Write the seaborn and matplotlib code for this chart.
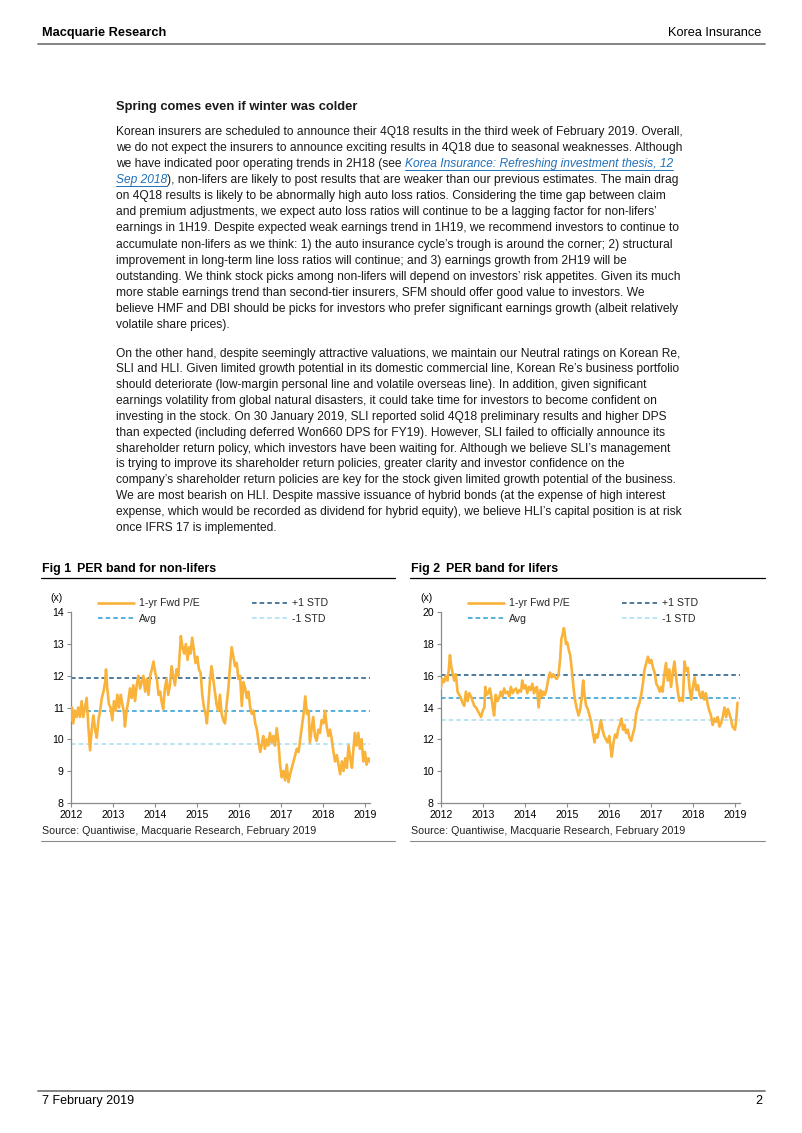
import pandas as pd
import matplotlib
matplotlib.use('Agg')
import matplotlib.pyplot as plt
import seaborn as sns
from matplotlib.lines import Line2D

# page size in pixels (saved at 100 dpi)
W, H = 802, 1133

# ---- chart data ----
year_ticks = [2012, 2013, 2014, 2015, 2016, 2017, 2018, 2019]

nonlife_years = [
    2012.00, 2012.03, 2012.06, 2012.10, 2012.14, 2012.18, 2012.22, 2012.26, 2012.30, 2012.34,
    2012.38, 2012.42, 2012.46, 2012.50, 2012.54, 2012.58, 2012.62, 2012.66, 2012.70, 2012.74,
    2012.78, 2012.82, 2012.84, 2012.87, 2012.91, 2012.95, 2012.99, 2013.03, 2013.07, 2013.11,
    2013.15, 2013.19, 2013.23, 2013.27, 2013.29, 2013.33, 2013.37, 2013.41, 2013.45, 2013.49,
    2013.53, 2013.57, 2013.61, 2013.65, 2013.69, 2013.73, 2013.77, 2013.81, 2013.85, 2013.89,
    2013.93, 2013.97, 2014.01, 2014.05, 2014.09, 2014.13, 2014.16, 2014.20, 2014.24, 2014.28,
    2014.32, 2014.36, 2014.40, 2014.44, 2014.48, 2014.52, 2014.56, 2014.60, 2014.62, 2014.66,
    2014.70, 2014.74, 2014.78, 2014.82, 2014.85, 2014.89, 2014.93, 2014.97, 2015.01, 2015.05,
    2015.09, 2015.13, 2015.17, 2015.21, 2015.24, 2015.28, 2015.31, 2015.35, 2015.39, 2015.43,
    2015.47, 2015.51, 2015.55, 2015.59, 2015.63, 2015.67, 2015.71, 2015.75, 2015.79, 2015.83,
    2015.87, 2015.91, 2015.95, 2015.99, 2016.03, 2016.07, 2016.11, 2016.15, 2016.19, 2016.23,
    2016.27, 2016.31, 2016.35, 2016.39, 2016.43, 2016.47, 2016.51, 2016.55, 2016.58, 2016.62,
    2016.66, 2016.70, 2016.74, 2016.78, 2016.82, 2016.86, 2016.90, 2016.94, 2016.98, 2017.02,
    2017.06, 2017.10, 2017.14, 2017.18, 2017.22, 2017.26, 2017.30, 2017.34, 2017.38, 2017.42,
    2017.46, 2017.50, 2017.54, 2017.58, 2017.62, 2017.66, 2017.69, 2017.73, 2017.77, 2017.81,
    2017.85, 2017.89, 2017.93, 2017.97, 2018.01, 2018.05, 2018.09, 2018.13, 2018.17, 2018.21,
    2018.25, 2018.29, 2018.33, 2018.37, 2018.41, 2018.45, 2018.49, 2018.53, 2018.57, 2018.61,
    2018.65, 2018.69, 2018.72, 2018.76, 2018.80, 2018.84, 2018.88, 2018.92, 2018.96, 2019.00,
    2019.04, 2019.08, 2019.11,
]
nonlife_pe = [
    10.6, 11.0, 10.5, 10.9, 10.7, 11.0, 10.7, 11.2, 10.7, 11.0,
    11.3, 10.4, 9.65, 10.3, 10.75, 10.3, 10.05, 10.6, 10.9, 11.3,
    11.5, 11.8, 12.2, 11.6, 11.1, 11.0, 10.6, 11.2, 10.9, 11.4,
    11.0, 11.4, 11.1, 10.8, 10.4, 10.9, 11.2, 11.6, 11.3, 11.7,
    11.2, 11.7, 12.0, 11.6, 11.8, 12.0, 11.5, 11.9, 11.4, 12.0,
    12.2, 12.45, 12.1, 11.9, 11.4, 11.5, 11.2, 10.95, 11.6, 11.9,
    11.4, 11.7, 12.3, 12.0, 11.7, 12.2, 12.0, 12.8, 13.25, 12.9,
    12.7, 13.0, 12.5, 12.9, 12.7, 13.2, 12.8, 12.4, 12.6, 12.2,
    12.1, 11.4, 11.0, 10.8, 10.5, 11.2, 11.8, 12.3, 11.9, 11.5,
    11.1, 10.9, 11.4, 10.8, 10.6, 10.5, 11.1, 11.6, 12.3, 12.9,
    12.6, 12.3, 12.4, 11.9, 12.0, 11.05, 11.8, 11.6, 11.3, 11.5,
    11.0, 10.8, 10.9, 10.5, 10.3, 9.9, 9.6, 9.85, 10.1, 9.7,
    10.0, 9.8, 10.2, 9.9, 10.1, 9.8, 10.35, 9.95, 9.2, 8.8,
    9.0, 8.7, 9.2, 8.65, 8.9, 9.1, 9.3, 9.5, 9.7, 9.6,
    10.0, 10.4, 10.8, 11.35, 10.8, 10.9, 9.9, 10.3, 10.7, 10.1,
    9.95, 10.3, 10.2, 10.6, 10.5, 10.9, 10.4, 10.1, 10.3, 10.0,
    9.6, 9.3, 9.5, 9.2, 8.9, 9.3, 9.0, 9.4, 9.1, 9.8,
    9.4, 9.1, 9.6, 10.2, 9.8, 10.2, 9.7, 10.0, 9.3, 9.6,
    9.2, 9.4, 9.3,
]

life_years = [
    2012.00, 2012.04, 2012.08, 2012.12, 2012.16, 2012.19, 2012.22, 2012.25, 2012.28, 2012.32,
    2012.36, 2012.40, 2012.44, 2012.48, 2012.52, 2012.56, 2012.60, 2012.64, 2012.68, 2012.72,
    2012.76, 2012.80, 2012.84, 2012.88, 2012.92, 2012.96, 2013.00, 2013.04, 2013.06, 2013.09,
    2013.13, 2013.17, 2013.21, 2013.24, 2013.27, 2013.31, 2013.35, 2013.39, 2013.43, 2013.47,
    2013.51, 2013.55, 2013.59, 2013.63, 2013.67, 2013.71, 2013.75, 2013.79, 2013.83, 2013.87,
    2013.91, 2013.94, 2013.98, 2014.02, 2014.06, 2014.10, 2014.14, 2014.18, 2014.22, 2014.25,
    2014.29, 2014.33, 2014.37, 2014.41, 2014.44, 2014.48, 2014.52, 2014.56, 2014.60, 2014.64,
    2014.68, 2014.72, 2014.76, 2014.80, 2014.84, 2014.87, 2014.90, 2014.93, 2014.95, 2014.98,
    2015.01, 2015.05, 2015.08, 2015.11, 2015.14, 2015.17, 2015.20, 2015.24, 2015.28, 2015.32,
    2015.35, 2015.39, 2015.42, 2015.46, 2015.50, 2015.54, 2015.58, 2015.62, 2015.66, 2015.69,
    2015.73, 2015.77, 2015.81, 2015.85, 2015.89, 2015.93, 2015.97, 2016.01, 2016.04, 2016.07,
    2016.11, 2016.15, 2016.19, 2016.22, 2016.26, 2016.30, 2016.34, 2016.37, 2016.41, 2016.45,
    2016.49, 2016.53, 2016.57, 2016.61, 2016.65, 2016.69, 2016.73, 2016.77, 2016.81, 2016.85,
    2016.89, 2016.93, 2016.97, 2017.01, 2017.05, 2017.09, 2017.13, 2017.17, 2017.21, 2017.25,
    2017.28, 2017.32, 2017.36, 2017.40, 2017.44, 2017.48, 2017.52, 2017.56, 2017.60, 2017.64,
    2017.68, 2017.72, 2017.76, 2017.80, 2017.84, 2017.88, 2017.92, 2017.96, 2018.00, 2018.04,
    2018.08, 2018.12, 2018.16, 2018.19, 2018.23, 2018.27, 2018.31, 2018.35, 2018.39, 2018.43,
    2018.47, 2018.51, 2018.55, 2018.59, 2018.63, 2018.67, 2018.71, 2018.75, 2018.79, 2018.83,
    2018.87, 2018.91, 2018.94, 2018.97, 2019.00, 2019.03, 2019.06,
]
life_pe = [
    15.2, 15.8, 15.6, 16.0, 15.7, 16.3, 17.3, 16.6, 16.2, 15.7,
    16.1, 15.0, 14.8, 14.6, 14.3, 14.1, 15.0, 14.4, 14.9, 14.7,
    14.4, 14.1, 14.0, 13.8, 13.6, 13.4, 13.8, 14.0, 15.3, 14.8,
    14.9, 15.2, 14.6, 14.0, 13.5, 14.8, 14.4, 14.6, 15.0, 14.7,
    15.2, 14.9, 15.0, 14.7, 15.3, 14.9, 15.1, 15.2, 14.9, 15.1,
    15.0, 15.7, 15.2, 15.4, 14.9, 15.3, 15.1, 15.5, 14.9, 15.2,
    15.3, 14.0, 15.1, 14.7, 15.0, 14.8, 15.2, 15.8, 16.2, 15.9,
    16.1, 15.9, 15.8, 16.0, 17.0, 18.3, 18.6, 19.0, 18.7, 18.0,
    18.1, 17.6, 17.3, 16.6, 15.8, 15.0, 14.4, 13.9, 13.5, 13.9,
    14.5, 15.7, 14.8, 14.1, 13.9, 13.5, 13.1, 12.4, 11.8, 12.3,
    12.1, 12.6, 13.2, 12.6, 12.2, 12.0, 11.8, 12.2, 11.5, 10.9,
    11.8, 12.3, 12.1, 12.6, 12.9, 13.3, 12.6, 12.9, 12.4, 12.6,
    12.1, 11.9, 12.3, 12.7, 13.6, 14.0, 14.3, 14.8, 15.5, 16.4,
    16.8, 17.2, 16.8, 17.0, 16.5, 16.2, 15.5, 15.3, 15.0, 15.3,
    15.0, 16.1, 16.8, 15.7, 16.4, 15.3, 16.2, 16.9, 15.9, 15.0,
    14.4, 14.6, 14.4, 16.9, 16.3, 16.5, 15.2, 14.5, 15.3, 15.9,
    15.1, 15.4, 14.8, 14.6, 15.0, 14.5, 14.9, 14.2, 13.8, 13.5,
    12.9, 13.3, 13.1, 13.4, 12.8, 13.0, 13.4, 14.0, 13.4, 13.9,
    13.6, 13.2, 12.8, 12.7, 12.6, 13.2, 14.3,
]

# +1 STD, Avg, -1 STD
nonlife_bands = [11.92, 10.88, 9.84]
life_bands = [16.05, 14.62, 13.2]
nonlife_yticks = [8, 9, 10, 11, 12, 13, 14]
life_yticks = [8, 10, 12, 14, 16, 18, 20]

band_labels = ['+1 STD', 'Avg', '-1 STD']
pe_label = '1-yr Fwd P/E'

# ---- page text ----
heading = 'Spring comes even if winter was colder'
para1 = [
    'Korean insurers are scheduled to announce their 4Q18 results in the third week of February 2019. Overall,',
    'we do not expect the insurers to announce exciting results in 4Q18 due to seasonal weaknesses. Although',
    'we have indicated poor operating trends in 2H18 (see ',
    '), non-lifers are likely to post results that are weaker than our previous estimates. The main drag',
    'on 4Q18 results is likely to be abnormally high auto loss ratios. Considering the time gap between claim',
    'and premium adjustments, we expect auto loss ratios will continue to be a lagging factor for non-lifers\u2019',
    'earnings in 1H19. Despite expected weak earnings trend in 1H19, we recommend investors to continue to',
    'accumulate non-lifers as we think: 1) the auto insurance cycle\u2019s trough is around the corner; 2) structural',
    'improvement in long-term line loss ratios will continue; and 3) earnings growth from 2H19 will be',
    'outstanding. We think stock picks among non-lifers will depend on investors\u2019 risk appetites. Given its much',
    'more stable earnings trend than second-tier insurers, SFM should offer good value to investors. We',
    'believe HMF and DBI should be picks for investors who prefer significant earnings growth (albeit relatively',
    'volatile share prices).',
]
link_a = 'Korea Insurance: Refreshing investment thesis, 12'
link_b = 'Sep 2018'
para2 = [
    'On the other hand, despite seemingly attractive valuations, we maintain our Neutral ratings on Korean Re,',
    'SLI and HLI. Given limited growth potential in its domestic commercial line, Korean Re\u2019s business portfolio',
    'should deteriorate (low-margin personal line and volatile overseas line). In addition, given significant',
    'earnings volatility from global natural disasters, it could take time for investors to become confident on',
    'investing in the stock. On 30 January 2019, SLI reported solid 4Q18 preliminary results and higher DPS',
    'than expected (including deferred Won660 DPS for FY19). However, SLI failed to officially announce its',
    'shareholder return policy, which investors have been waiting for. Although we believe SLI\u2019s management',
    'is trying to improve its shareholder return policies, greater clarity and investor confidence on the',
    'company\u2019s shareholder return policies are key for the stock given limited growth potential of the business.',
    'We are most bearish on HLI. Despite massive issuance of hybrid bonds (at the expense of high interest',
    'expense, which would be recorded as dividend for hybrid equity), we believe HLI\u2019s capital position is at risk',
    'once IFRS 17 is implemented.',
]

ORANGE = '#F9B23A'
STD_HI = '#1B5784'
AVG_C = '#2A9BD3'
STD_LO = '#A8DDF2'
LINK = '#2170B8'
TEXT = '#1a1a1a'
GREY = '#8a8a8a'

sns.set_style('white')
plt.rcParams['font.family'] = ['Liberation Sans', 'DejaVu Sans']
NARROW = ['Liberation Sans Narrow', 'Liberation Sans', 'DejaVu Sans']


def fx(x):
    return x / W


def fy(y):
    return 1 - y / H


def hline(fig, x0, x1, y, color, lw):
    fig.add_artist(Line2D([fx(x0), fx(x1)], [fy(y), fy(y)], transform=fig.transFigure,
                          color=color, lw=lw))


def band_chart(fig, left, years, pe, bands, yticks, ylim):
    ax = fig.add_axes([fx(left), fy(802.7), 299.3 / W, 190.4 / H])
    df = pd.DataFrame({'year': years, 'pe': pe})
    sns.lineplot(data=df, x='year', y='pe', ax=ax, color=ORANGE, lw=1.9, zorder=3)
    for val, col in zip(bands, [STD_HI, AVG_C, STD_LO]):
        ax.axhline(val, color=col, lw=1.1, ls=(0, (3, 2)), zorder=2)
    ax.set_xlim(2012, 2019.12)
    ax.set_ylim(*ylim)
    ax.set_xticks(year_ticks)
    ax.set_xticklabels([str(y) for y in year_ticks])
    ax.set_yticks(yticks)
    ax.set_xlabel('')
    ax.set_ylabel('')
    for s in ['top', 'right']:
        ax.spines[s].set_visible(False)
    for s in ['left', 'bottom']:
        ax.spines[s].set_color(GREY)
        ax.spines[s].set_linewidth(0.9)
    ax.tick_params(axis='both', direction='out', length=3, width=0.8, color=GREY,
                   labelsize=7.6, labelcolor='black', pad=2, left=True, bottom=True)
    handles = [Line2D([], [], color=ORANGE, lw=1.9),
               Line2D([], [], color=AVG_C, lw=1.1, ls=(0, (3, 2))),
               Line2D([], [], color=STD_HI, lw=1.1, ls=(0, (3, 2))),
               Line2D([], [], color=STD_LO, lw=1.1, ls=(0, (3, 2)))]
    labels = [pe_label, band_labels[1], band_labels[0], band_labels[2]]
    ax.legend(handles, labels, ncol=2, loc='upper left', bbox_to_anchor=(0.091, 1.074),
              frameon=False, fontsize=7.6, handlelength=3.4, handletextpad=0.45,
              columnspacing=4.95, labelspacing=0.55, borderpad=0, borderaxespad=0)
    ax.text(-0.046, 1.075, '(x)', transform=ax.transAxes, ha='center', va='center',
            fontsize=7.6, color='black')
    return ax


fig = plt.figure(figsize=(W / 100, H / 100), dpi=100)

# header / footer
fig.text(fx(42), fy(33), 'Macquarie Research', fontsize=9.2, fontweight='bold',
         family=NARROW, va='center', color='black')
fig.text(fx(761), fy(33), 'Korea Insurance', fontsize=9.2, family=NARROW,
         ha='right', va='center', color='black')
hline(fig, 38, 765, 44, '#7a7a7a', 1.3)
hline(fig, 38, 765, 1091, '#7a7a7a', 1.3)
fig.text(fx(42), fy(1101), '7 February 2019', fontsize=9, family=NARROW,
         va='center', color='black')
fig.text(fx(762), fy(1101), '2', fontsize=9, family=NARROW, ha='right',
         va='center', color='black')

# body text
fig.text(fx(116), fy(107), heading, fontsize=9.3, fontweight='bold', va='center', color=TEXT)
BODY = 8.65
renderer = fig.canvas.get_renderer()
y = 131.5
for i, line in enumerate(para1):
    t = fig.text(fx(116), fy(y), line, fontsize=BODY, va='center', color=TEXT)
    if i == 2:
        ext = t.get_window_extent(renderer)
        lt = fig.text(ext.x1 / W, fy(y), link_a, fontsize=BODY, va='center',
                      color=LINK, style='italic')
        le = lt.get_window_extent(renderer)
        hline(fig, le.x0, le.x1, y + 6.5, LINK, 0.7)
    if i == 3:
        lt = fig.text(fx(116), fy(y), link_b, fontsize=BODY, va='center',
                      color=LINK, style='italic')
        le = lt.get_window_extent(renderer)
        hline(fig, le.x0, le.x1, y + 6.5, LINK, 0.7)
        t.set_position((le.x1 / W, fy(y)))
    y += 16.15
y = 353.5
for line in para2:
    fig.text(fx(116), fy(y), line, fontsize=BODY, va='center', color=TEXT)
    y += 15.85

# figure titles and rules
for x0, x1, num, title in [(42, 395, 'Fig 1', 'PER band for non-lifers'),
                           (411, 765, 'Fig 2', 'PER band for lifers')]:
    fig.text(fx(x0), fy(569), num, fontsize=8.9, fontweight='bold', va='center', color='black')
    fig.text(fx(x0 + 35), fy(569), title, fontsize=8.9, fontweight='bold', va='center',
             color='black')
    hline(fig, x0 - 1, x1, 578, 'black', 0.9)
    fig.text(fx(x0), fy(831), 'Source: Quantiwise, Macquarie Research, February 2019',
             fontsize=7.7, va='center', color='#222222')
    hline(fig, x0 - 1, x1, 841, GREY, 0.8)

band_chart(fig, 70.7, nonlife_years, nonlife_pe, nonlife_bands, nonlife_yticks, (8, 14))
band_chart(fig, 440.7, life_years, life_pe, life_bands, life_yticks, (8, 20))

fig.savefig('out.png', dpi=100)
